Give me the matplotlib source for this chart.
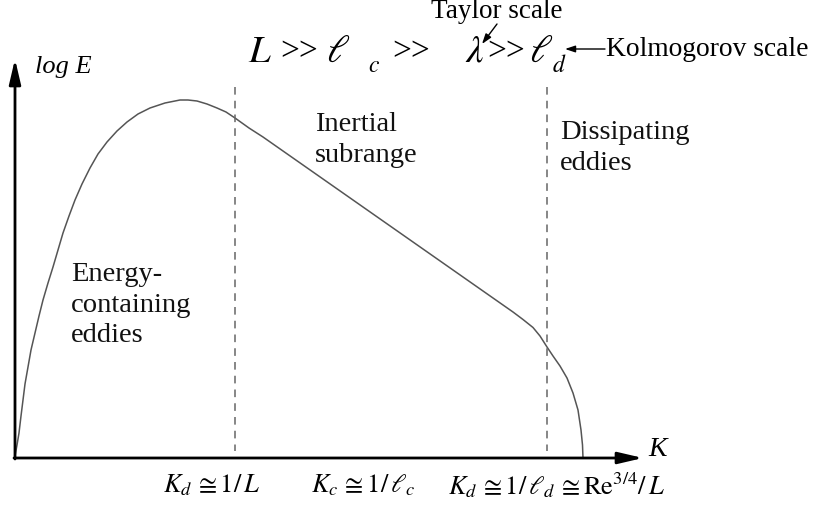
import matplotlib
matplotlib.use("Agg")
import matplotlib.pyplot as plt

# schematic energy spectrum (pixel-like units, y down)
k_vals = [15, 17, 19, 21, 23, 25, 28, 31, 35, 39, 43, 48, 53, 58, 63, 69, 75,
          82, 90, 98, 107, 117, 127, 138, 150, 165, 180, 188, 197, 207, 217,
          226, 235, 249, 263, 313, 363, 413, 463, 513, 523, 533, 540, 547,
          553, 560, 567, 573, 578, 581, 582.5, 583]
logE_vals = [456, 445, 433, 416, 400, 384, 367, 350, 333, 316, 300, 283, 267,
             250, 233, 216, 200, 184, 168, 154, 142, 131, 122, 114, 108, 103,
             100, 100, 101, 104, 108, 112, 118, 128, 137, 172, 207, 242, 277,
             312, 319.5, 327.5, 336, 347, 356, 366, 378, 393, 410, 430, 445,
             458]

# range boundaries (dashed lines)
bounds_k = [235, 547]

region_labels = ["Energy-\ncontaining\neddies", "Inertial\nsubrange",
                 "Dissipating\neddies"]
region_pos = [(71, 305), (315, 140), (560, 148)]

tick_labels = [r"$K_d\,\cong 1/\,L$", r"$K_c\,\cong 1/\,\ell_c$",
               r"$K_d\,\cong 1/\,\ell_d\,\cong \mathrm{Re}^{3/4}/\,L$"]
tick_pos = [212, 363, 556]

# scale ordering L >> l_c >> lambda >> l_d
big_parts = [r"$L$", ">>", r"$\ell$", ">>", r"$\lambda$", ">>", r"$\ell$"]
big_x = [260, 299, 338, 411, 475, 506, 541]
sub_parts = [r"$c$", r"$d$"]
sub_x = [374, 559]

plt.rcParams['font.family'] = ['Liberation Serif', 'DejaVu Serif']
plt.rcParams['mathtext.fontset'] = 'stix'

fig = plt.figure(figsize=(8.17, 5.08), dpi=100)
ax = fig.add_axes([0, 0, 1, 1])
ax.set_xlim(0, 817)
ax.set_ylim(508, 0)
ax.axis('off')

x0, y0 = 15, 458

# axes with arrows
ax.annotate("", xy=(643, y0), xytext=(x0 - 1, y0),
            arrowprops=dict(arrowstyle="-|>,head_length=1.5,head_width=0.35",
                            color="black", lw=2, shrinkA=0, shrinkB=0))
ax.annotate("", xy=(x0, 59), xytext=(x0, y0 + 1),
            arrowprops=dict(arrowstyle="-|>,head_length=1.5,head_width=0.35",
                            color="black", lw=2, shrinkA=0, shrinkB=0))

ax.plot(k_vals, logE_vals, color="#555555", lw=1.1)

for b in bounds_k:
    ax.plot([b, b], [87, 451], color="#666666", lw=1.1, linestyle=(0, (5, 4)))

for txt, (px, py) in zip(region_labels, region_pos):
    ax.text(px, py, txt, fontsize=20.5, ha='left', va='center', linespacing=1.3,
            color="#111111")

for txt, px in zip(tick_labels, tick_pos):
    ax.text(px, 485, txt, fontsize=19, ha='center', va='center')

ax.text(35, 67, "log E", fontsize=19, style='italic', ha='left', va='center')
ax.text(648, 449, "K", fontsize=20, style='italic', ha='left', va='center')

for txt, px in zip(big_parts, big_x):
    fs = 24 if txt == ">>" else 28
    ax.text(px, 52, txt, fontsize=fs, ha='center', va='center')
for txt, px in zip(sub_parts, sub_x):
    ax.text(px, 66, txt, fontsize=17, ha='center', va='center')

ax.text(497, 11, "Taylor scale", fontsize=19.5, ha='center', va='center')
ax.annotate("", xy=(482, 44), xytext=(497, 24),
            arrowprops=dict(arrowstyle="-|>,head_length=0.6,head_width=0.2",
                            color="black", lw=1, shrinkA=0, shrinkB=0))
ax.annotate("", xy=(565, 49), xytext=(605, 49),
            arrowprops=dict(arrowstyle="-|>,head_length=0.6,head_width=0.2",
                            color="black", lw=1, shrinkA=0, shrinkB=0))
ax.text(606, 49, "Kolmogorov scale", fontsize=19.8, ha='left', va='center')

fig.savefig("out.png", dpi=100)
